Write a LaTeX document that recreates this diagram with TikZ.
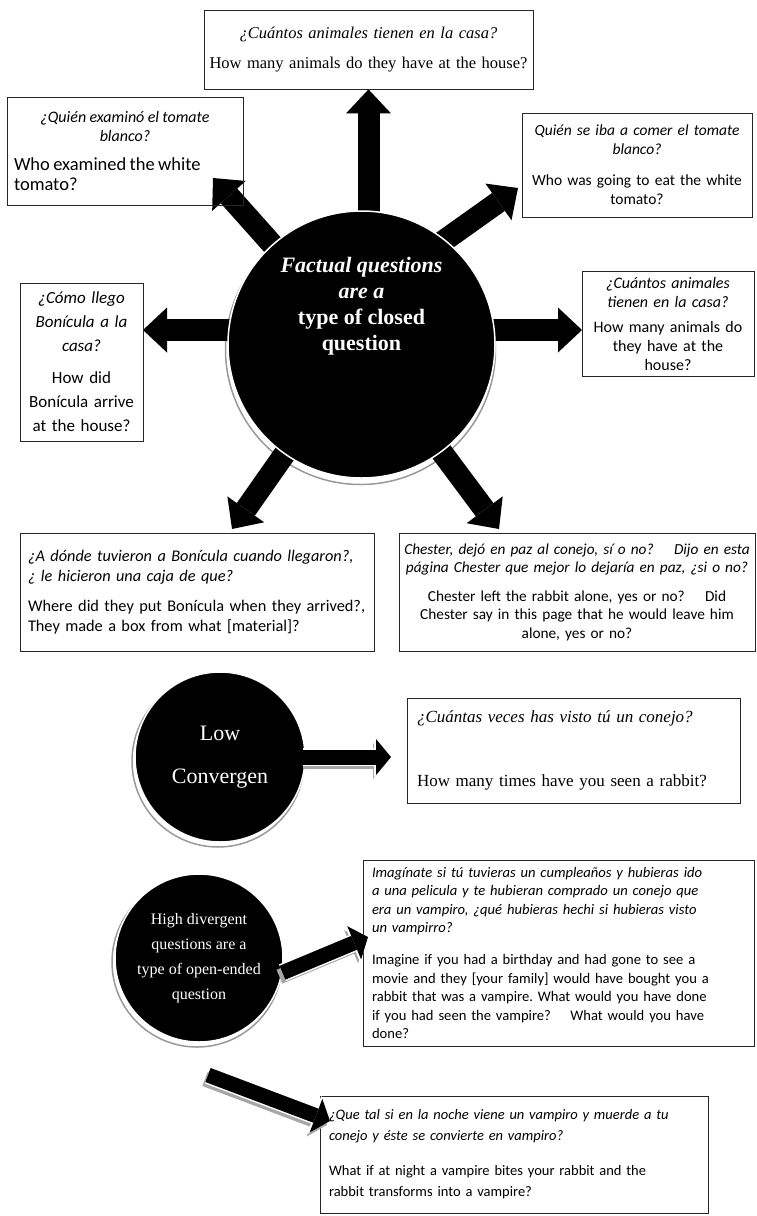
\documentclass[tikz,border=0pt]{standalone}
\usepackage{fontspec}
\setmainfont{Carlito}
\newfontfamily\timesfont{Liberation Serif}
\usetikzlibrary{positioning, backgrounds, arrows.meta}
\frenchspacing

\begin{document}
\begin{tikzpicture}[x=1pt, y=-1pt,
		caja/.style={draw=black!85, line width=0.8pt, inner sep=0pt, align=center},
		circulo/.style={circle, fill=black, draw=white, line width=1.5pt, text=white, align=center, inner sep=0pt},
		anillo/.style={draw=black!40, line width=1.5pt},
		flecha/.style={line width=22pt, -{Triangle[length=24pt, width=45pt, line width=0pt]}},
		flechita/.style={line width=15pt, -{Triangle[length=15pt, width=36pt, line width=0pt]},
			preaction={draw=white, line width=18pt, -{Triangle[length=17pt, width=41pt, line width=0pt]}}},
		sombra/.style={draw=black!35, line width=15pt, -{Triangle[length=15pt, width=36pt, line width=0pt]}}]
	
	\useasboundingbox (0,0) rectangle (757,1216);
	
	% Nodo central
	\node[circulo, minimum size=267pt] (Central) at (361.5,344.5) {};
	\node[text=white, align=center, font=\timesfont\bfseries\fontsize{22}{26}\selectfont] (CentralText) at ([yshift=38pt]Central.center) {\textit{Factual questions}\\ \textit{are a}\\ type of closed\\ question};
	
	% Preguntas alrededor
	\node[caja, minimum width=329pt, minimum height=79pt, text width=325pt, font=\timesfont\fontsize{16.5}{20}\selectfont] (QTop) at (368.5,49.5) {\textit{¿Cuántos animales tienen en la casa?}\\[10pt] How many animals do they have at the house?};
	\node[caja, minimum width=236pt, minimum height=108pt, text width=222pt, align=left] (QTopLeft) at (125,151) {{\centering\fontsize{16}{19}\selectfont\itshape ¿Quién examinó el tomate\\ blanco?\par}\vspace{9pt}{\fontsize{18.5}{20}\selectfont Who examined the white\\ tomato?\par}};
	\node[caja, minimum width=230pt, minimum height=104pt, text width=226pt, font=\fontsize{15.5}{19}\selectfont] (QTopRight) at (637,165) {{\itshape Quién se iba a comer el tomate\\ blanco?}\\[12pt] Who was going to eat the white\\ tomato?};
	\node[caja, minimum width=123pt, minimum height=158pt, text width=121pt, font=\fontsize{17}{24}\selectfont] (QLeft) at (81.5,362) {{\itshape ¿Cómo llego\\ Bonícula a la\\ casa?}\\[8pt] How did\\ Bonícula arrive\\ at the house?};
	\node[caja, minimum width=172pt, minimum height=105pt, text width=170pt, font=\fontsize{16}{19}\selectfont] (QRight) at (668,323.5) {{\itshape ¿Cuántos animales\\ tienen en la casa?}\\[6pt] How many animals do\\ they have at the\\ house?};
	\node[caja, minimum width=354pt, minimum height=118pt, text width=338pt, align=left, font=\fontsize{16.3}{20}\selectfont] (QBottomLeft) at (197,592) {{\itshape ¿A dónde tuvieron a Bonícula cuando llegaron?,\\ ¿ le hicieron una caja de que?}\\[10pt] Where did they put Bonícula when they arrived?,\\ They made a box from what [material]?};
	\node[caja, minimum width=356pt, minimum height=118pt, text width=356pt, font=\fontsize{15.3}{18.5}\selectfont] (QBottomRight) at (577,592) {{\itshape Chester, dejó en paz al conejo, sí o no?\quad\ Dijo en esta\\ página Chester que mejor lo dejaría en paz, ¿si o no?}\\[10pt] Chester left the rabbit alone, yes or no?\quad\ Did\\ Chester say in this page that he would leave him\\ alone, yes or no?};
	
	% Puntas de las flechas
	\coordinate (TipTL) at (213,178);
	\coordinate (StartTR) at (400,272);
	\coordinate (TipTR) at (518,188);
	\coordinate (TipL) at (143,330);
	\coordinate (TipR) at (582,330);
	\coordinate (TipBL) at (232,529);
	\coordinate (TipBR) at (499,529);
	
	% Flechas y sombra en la capa de fondo
	\begin{scope}[on background layer]
		\fill[white] (0,0) rectangle (757,1216);
		\draw[anillo] ([shift={(-1,5)}]Central.center) circle (135pt);
		\draw[flecha] (Central.center -| QTop.south) -- (QTop.south);
		\draw[flecha] (Central.center) -- (TipTL);
		\draw[flecha] (StartTR) -- (TipTR);
		\draw[flecha] (Central.center |- TipL) -- (TipL);
		\draw[flecha] (Central.center |- TipR) -- (TipR);
		\draw[flecha] (Central.center) -- (TipBL);
		\draw[flecha] (Central.center) -- (TipBR);
	\end{scope}
	
	% Pregunta convergente
	\node[circulo, minimum size=170pt, font=\timesfont\fontsize{22}{43}\selectfont] (LowConv) at (220,757) {Low\\ Convergen};
	\node[caja, minimum width=333pt, minimum height=105pt, text width=313pt, align=left, font=\timesfont\fontsize{17}{20}\selectfont] (QLow) at (573.5,750.5) {\textit{¿Cuántas veces has visto tú un conejo?}\\[44pt] How many times have you seen a rabbit?};
	
	% Pregunta divergente
	\node[circulo, minimum size=168pt, font=\timesfont\fontsize{16}{25}\selectfont] (HighDiv) at (199,958) {High divergent\\ questions are a\\ type of open-ended\\ question};
	\node[caja, minimum width=391pt, minimum height=186pt, text width=373pt, align=left, font=\fontsize{14.6}{18.6}\selectfont] (QHighA) at (558.5,953) {{\itshape Imagínate si tú tuvieras un cumpleaños y hubieras ido\\ a una pelicula y te hubieran comprado un conejo que\\ era un vampiro, ¿qué hubieras hechi si hubieras visto\\ un vampirro?}\\[13pt] Imagine if you had a birthday and had gone to see a\\ movie and they [your family] would have bought you a\\ rabbit that was a vampire. What would you have done\\ if you had seen the vampire?\quad\ What would you have\\ done?};
	\node[caja, minimum width=388pt, minimum height=117pt, text width=370pt, align=left, font=\fontsize{14.5}{21}\selectfont] (QHighB) at (514,1154.5) {{\itshape ¿Que tal si en la noche viene un vampiro y muerde a tu\\ conejo y éste se convierte en vampiro?}\\[14pt] What if at night a vampire bites your rabbit and the\\ rabbit transforms into a vampire?};
	
	\coordinate (TipLow) at (391,757);
	\coordinate (TipHighA) at (368,937);
	\coordinate (StartHighB) at (208,1075);
	\coordinate (TipHighB) at (330,1121);
	
	% Anillos grises de los circulos pequenos
	\begin{scope}[on background layer]
		\draw[anillo] ([shift={(-2,4)}]LowConv.center) circle (86pt);
		\draw[anillo] ([shift={(-2,4)}]HighDiv.center) circle (85pt);
	\end{scope}
	
	% Flechas de los circulos pequenos
	\draw[sombra] ([shift={(-3,4)}]LowConv.east) -- ([shift={(-3,4)}]TipLow);
	\draw[flechita] ([xshift=-3pt]LowConv.east) -- (TipLow);
	\draw[sombra] ([shift={(-3,4)}]HighDiv.-10) -- ([shift={(-3,4)}]TipHighA);
	\draw[flechita] (HighDiv.-10) -- (TipHighA);
	\draw[sombra] ([shift={(-3,4)}]StartHighB) -- ([shift={(-3,4)}]TipHighB);
	\draw[flechita] (StartHighB) -- (TipHighB);
	
\end{tikzpicture}
\end{document}
